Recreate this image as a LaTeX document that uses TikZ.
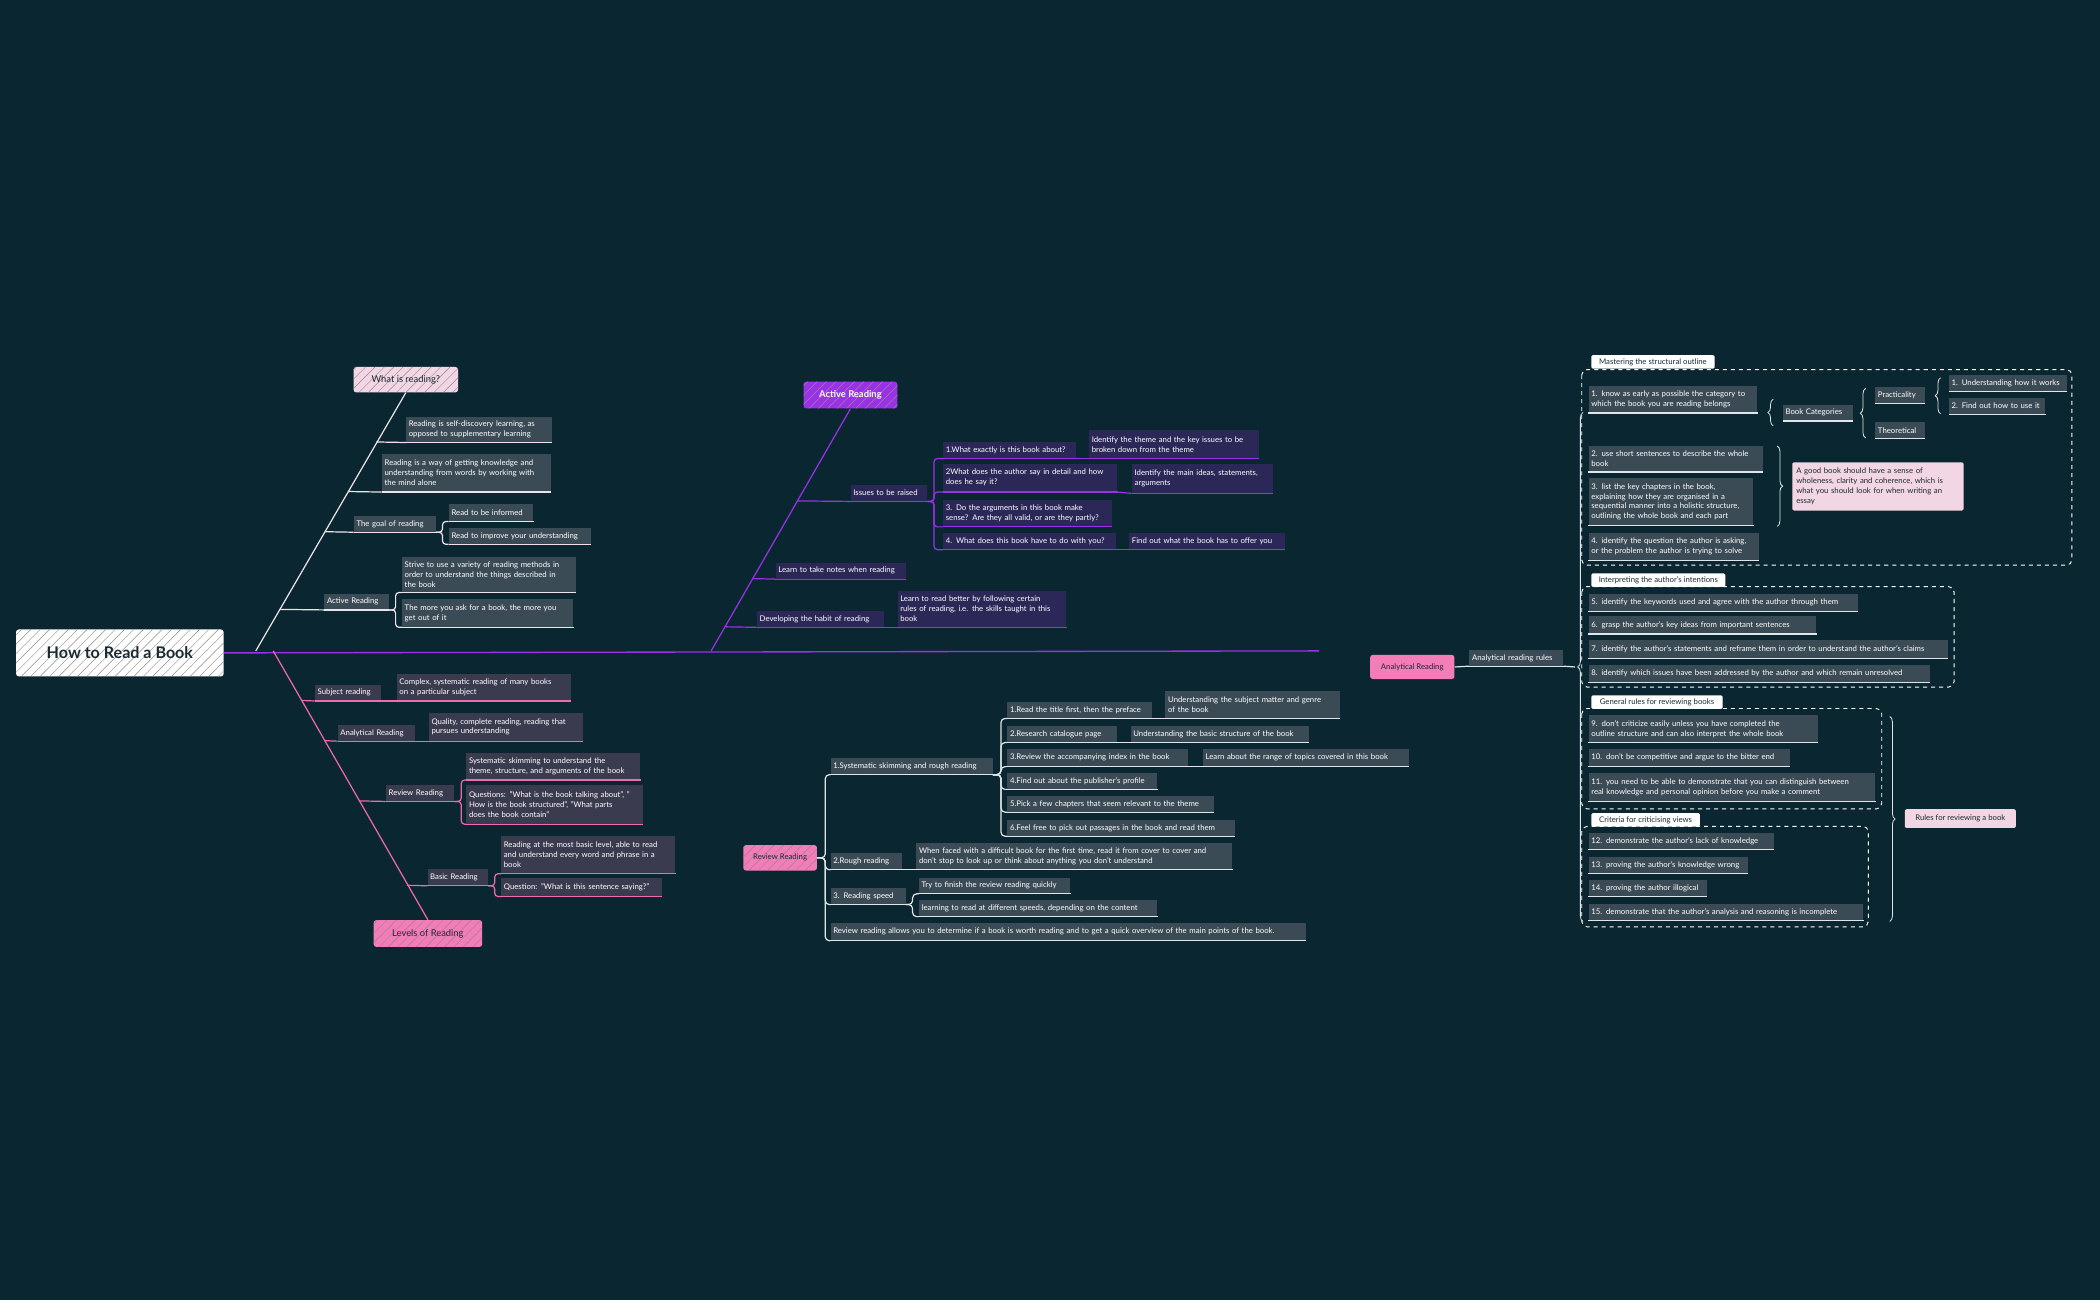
\documentclass[tikz,border=0pt]{standalone}
\usepackage{fontspec}
\setmainfont{Lato}
\usetikzlibrary{decorations.pathreplacing}
\definecolor{bg}{HTML}{0A2731}
\definecolor{slate}{HTML}{3B4B55}
\definecolor{indigo}{HTML}{2B2858}
\definecolor{grape}{HTML}{3B3B50}
\definecolor{wl}{HTML}{EFE3EA}
\definecolor{pl}{HTML}{9B30E8}
\definecolor{kl}{HTML}{EF6AAE}
\definecolor{gl}{HTML}{DFE5E8}
\definecolor{lpink}{HTML}{F3D6E4}
\definecolor{hpink}{HTML}{F47CB8}
\definecolor{dtext}{HTML}{1A2A33}
\tikzset{
 sm/.style={font=\fontsize{5.8}{7.4}\selectfont},
 wbox/.style={fill=slate,text=white,sm},
 pbox/.style={fill=indigo,text=white,sm},
 kbox/.style={fill=grape,text=white,sm},
 gbox/.style={fill=slate,text=white,sm},
 lbox/.style={fill=lpink,text=dtext,sm,rounded corners=1.5pt},
 tab/.style={fill=white,text=dtext,sm,rounded corners=1pt},
 hatch/.style={path picture={\foreach \i in {0,7,...,210}{\draw[black!45,line width=0.35pt]([xshift=\i pt-45pt]path picture bounding box.south west) -- ++(45pt,45pt);}}},
 conn/.style={line width=0.9pt},
 dbox/.style={draw=white,dashed,line width=0.7pt,rounded corners=4pt},
 brc/.style={decorate,decoration={brace,amplitude=4pt},gl,line width=0.6pt}
}
\newcommand\bx[8]{%
 \pgfmathsetmacro\bw{#6-#4}\pgfmathsetmacro\bh{#7-#5}\pgfmathsetmacro\tw{#6-#4-4}%
 \node[#1,minimum width=\bw pt,minimum height=\bh pt,text width=\tw pt,align=left,inner xsep=2pt,inner ysep=0pt,anchor=north west] (#3) at (#4,#5) {#8};
 \draw[#2,conn] (#3.south west) -- (#3.south east);}
\begin{document}
\begin{tikzpicture}[x=1pt,y=-1pt]
\fill[bg] (0,0) rectangle (1568,971);
\useasboundingbox (0,0) rectangle (1568,971);
% root
\node[fill=white,rounded corners=2pt,hatch,minimum width=155pt,minimum height=35pt,text=dtext,font=\fontsize{12}{14}\selectfont\bfseries] (root) at (89.5,487.5) {How to Read a Book};
\coordinate (mainend) at (985,486);
\draw[pl,line width=1pt] (root.east) -- (mainend);
% ---------- white branch
\node[fill=lpink,hatch,rounded corners=2pt,text=dtext,font=\fontsize{7}{8}\selectfont,minimum width=78pt,minimum height=19pt] (whatis) at (303,283.5) {What is reading?};
\coordinate (wroot) at (191,486);
\draw[wl,conn] (wroot) -- (whatis.south);
\bx{wbox}{wl}{w1}{303}{311}{412}{330}{Reading is self-discovery learning, as\\opposed to supplementary learning}
\bx{wbox}{wl}{w2}{285}{339}{411}{367}{Reading is a way of getting knowledge and\\understanding from words by working with\\the mind alone}
\bx{wbox}{wl}{goal}{264}{385}{325}{397}{The goal of reading}
\bx{wbox}{wl}{g1}{335}{376}{398}{389}{Read to be informed}
\bx{wbox}{wl}{g2}{335}{394}{441}{406}{Read to improve your understanding}
\bx{wbox}{wl}{war}{242}{443}{290}{455}{Active Reading}
\bx{wbox}{wl}{a1}{300}{416}{430}{442}{Strive to use a variety of reading methods in\\order to understand the things described in\\the book}
\bx{wbox}{wl}{a2}{300}{447}{428}{468}{The more you ask for a book, the more you\\get out of it}
\coordinate (wc1) at (281,330);\coordinate (wc2) at (260,367);\coordinate (wc3) at (243,397);\coordinate (wc4) at (209,455);
\draw[wl,conn] (wc1) -- (w1.south west);
\draw[wl,conn] (wc2) -- (w2.south west);
\draw[wl,conn] (wc3) -- (goal.south west);
\draw[wl,conn] (wc4) -- (war.south west);
\draw[wl,conn,rounded corners=2.5pt] (goal.south east) -- ++(5,0) |- (g1.south west);
\draw[wl,conn,rounded corners=2.5pt] (goal.south east) -- ++(5,0) |- (g2.south west);
\draw[wl,conn,rounded corners=2.5pt] (war.south east) -- ++(5,0) |- (a1.south west);
\draw[wl,conn,rounded corners=2.5pt] (war.south east) -- ++(5,0) |- (a2.south west);
% ---------- pink branch
\node[fill=hpink,hatch,rounded corners=2pt,text=dtext,font=\fontsize{7}{8}\selectfont,minimum width=81pt,minimum height=20pt] (levels) at (319.5,697) {Levels of Reading};
\coordinate (kroot) at (204,486);
\draw[kl,conn] (kroot) -- (levels.north);
\bx{kbox}{kl}{sj}{235}{511}{284}{523}{Subject reading}
\bx{kbox}{kl}{sj1}{296}{503}{426}{523}{Complex, systematic reading of many books\\on a particular subject}
\bx{kbox}{kl}{an}{252}{541}{310}{553}{Analytical Reading}
\bx{kbox}{kl}{an1}{320}{532}{435}{553}{Quality, complete reading, reading that\\pursues understanding}
\bx{kbox}{kl}{rv}{288}{586}{339}{598}{Review Reading}
\bx{kbox}{kl}{v1}{348}{562}{478}{582}{Systematic skimming to understand the\\theme, structure, and arguments of the book}
\bx{kbox}{kl}{v2}{348}{586}{480}{615}{Questions: "What is the book talking about", "\\How is the book structured", "What parts\\does the book contain"}
\bx{kbox}{kl}{bs}{319}{649}{364}{661}{Basic Reading}
\bx{kbox}{kl}{b1}{374}{624}{504}{652}{Reading at the most basic level, able to read\\and understand every word and phrase in a\\book}
\bx{kbox}{kl}{b2}{374}{655}{494}{669}{Question: "What is this sentence saying?"}
\coordinate (kc1) at (225,523);\coordinate (kc2) at (242,553);\coordinate (kc3) at (268,598);\coordinate (kc4) at (304,661);
\draw[kl,conn] (kc1) -- (sj.south west);
\draw[kl,conn] (kc2) -- (an.south west);
\draw[kl,conn] (kc3) -- (rv.south west);
\draw[kl,conn] (kc4) -- (bs.south west);
\draw[kl,conn] (sj.south east) -- (sj1.south west);
\draw[kl,conn] (an.south east) -- (an1.south west);
\draw[kl,conn,rounded corners=2.5pt] (rv.south east) -- ++(5,0) |- (v1.south west);
\draw[kl,conn,rounded corners=2.5pt] (rv.south east) -- ++(5,0) |- (v2.south west);
\draw[kl,conn,rounded corners=2.5pt] (bs.south east) -- ++(5,0) |- (b1.south west);
\draw[kl,conn,rounded corners=2.5pt] (bs.south east) -- ++(5,0) |- (b2.south west);
% ---------- purple branch
\node[fill=pl,hatch,rounded corners=2pt,text=white,font=\fontsize{7}{8}\selectfont\bfseries,minimum width=70pt,minimum height=20pt] (active) at (635,295) {Active Reading};
\coordinate (proot) at (531,486);
\draw[pl,conn] (proot) -- (active.south);
\bx{pbox}{pl}{iss}{635}{362}{692}{374}{Issues to be raised}
\bx{pbox}{pl}{q1}{704}{330}{803}{342}{1.What exactly is this book about?}
\bx{pbox}{pl}{q1a}{813}{321}{940}{342}{Identify the theme and the key issues to be\\broken down from the theme}
\bx{pbox}{pl}{q2}{704}{346}{834}{367}{2What does the author say in detail and how\\does he say it?}
\bx{pbox}{pl}{q2a}{845}{346}{950}{368}{Identify the main ideas, statements,\\arguments}
\bx{pbox}{pl}{q3}{704}{373}{830}{393}{3. Do the arguments in this book make\\sense? Are they all valid, or are they partly?}
\bx{pbox}{pl}{q4}{704}{398}{833}{410}{4. What does this book have to do with you?}
\bx{pbox}{pl}{q4a}{843}{398}{959}{410}{Find out what the book has to offer you}
\bx{pbox}{pl}{nt}{579}{420}{676}{432}{Learn to take notes when reading}
\bx{pbox}{pl}{hb}{565}{456}{660}{468}{Developing the habit of reading}
\bx{pbox}{pl}{hb1}{670}{441}{796}{468}{Learn to read better by following certain\\rules of reading, i.e. the skills taught in this\\book}
\coordinate (pc1) at (595,374);\coordinate (pc2) at (562,432);\coordinate (pc3) at (541,468);
\draw[pl,conn] (pc1) -- (iss.south west);
\draw[pl,conn] (pc2) -- (nt.south west);
\draw[pl,conn] (pc3) -- (hb.south west);
\draw[pl,conn] (hb.south east) -- (hb1.south west);
\foreach \q in {q1,q2,q3,q4}{\draw[pl,conn,rounded corners=2.5pt] (iss.south east) -- ++(5,0) |- (\q.south west);}
\draw[pl,conn] (q1.south east) -- (q1a.south west);
\draw[pl,conn] (q2.south east) -- (q2a.south west);
\draw[pl,conn] (q4.south east) -- (q4a.south west);
% ---------- review reading (center)
\node[fill=hpink,hatch,rounded corners=2pt,text=dtext,sm,minimum width=55pt,minimum height=19pt] (rr) at (582.5,640.5) {Review Reading};
\bx{gbox}{gl}{s1}{620}{566}{741}{578}{1.Systematic skimming and rough reading}
\bx{gbox}{gl}{r1}{752}{524}{860}{536}{1.Read the title first, then the preface}
\bx{gbox}{gl}{r1a}{870}{516}{1000}{536}{Understanding the subject matter and genre\\of the book}
\bx{gbox}{gl}{r2}{752}{542}{834}{554}{2.Research catalogue page}
\bx{gbox}{gl}{r2a}{844}{542}{977}{554}{Understanding the basic structure of the book}
\bx{gbox}{gl}{r3}{752}{559}{887}{572}{3.Review the accompanying index in the book}
\bx{gbox}{gl}{r3a}{898}{559}{1052}{572}{Learn about the range of topics covered in this book}
\bx{gbox}{gl}{r4}{752}{577}{864}{589}{4.Find out about the publisher's profile}
\bx{gbox}{gl}{r5}{752}{594}{906}{606}{5.Pick a few chapters that seem relevant to the theme}
\bx{gbox}{gl}{r6}{752}{612}{922}{624}{6.Feel free to pick out passages in the book and read them}
\bx{gbox}{gl}{s2}{620}{637}{673}{649}{2.Rough reading}
\bx{gbox}{gl}{s2a}{684}{629}{920}{649}{When faced with a difficult book for the first time, read it from cover to cover and\\don't stop to look up or think about anything you don't understand}
\bx{gbox}{gl}{s3}{620}{663}{676}{675}{3. Reading speed}
\bx{gbox}{gl}{t1}{686}{655}{799}{667}{Try to finish the review reading quickly}
\bx{gbox}{gl}{t2}{686}{672}{864}{684}{learning to read at different speeds, depending on the content}
\bx{gbox}{gl}{s4}{620}{689}{975}{702}{Review reading allows you to determine if a book is worth reading and to get a quick overview of the main points of the book.}
\foreach \s in {s1,s2,s3,s4}{\draw[gl,conn,rounded corners=3pt] (rr.east) -- ++(6,0) |- (\s.south west);}
\foreach \r in {r1,r2,r3,r4,r5,r6}{\draw[gl,conn,rounded corners=3pt] (s1.south east) -- ++(6,0) |- (\r.south west);}
\foreach \t in {t1,t2}{\draw[gl,conn,rounded corners=3pt] (s3.south east) -- ++(5,0) |- (\t.south west);}
\draw[gl,conn] (r1.south east) -- (r1a.south west);
\draw[gl,conn] (r2.south east) -- (r2a.south west);
\draw[gl,conn] (r3.south east) -- (r3a.south west);
\draw[gl,conn] (s2.south east) -- (s2a.south west);
% ---------- analytical reading (right)
\node[fill=hpink,rounded corners=2pt,text=dtext,sm,minimum width=63pt,minimum height=18pt] (ana) at (1054.5,498) {Analytical Reading};
\bx{gbox}{gl}{rules}{1097}{485}{1167}{497}{Analytical reading rules}
\draw[gl,conn] (ana.east) -- (rules.south west);
\coordinate (bigtip) at (1176,498);
\draw[gl,conn] (rules.south east) -- (bigtip);
\draw[brc] (1182,688) -- (1182,308);
% group 1
\draw[dbox] (1181,276) rectangle (1547,422);
\node[tab,anchor=north west,minimum width=92pt,minimum height=10pt,inner sep=1pt] (tab1) at (1188,265) {Mastering the structural outline};
\bx{gbox}{gl}{m1}{1186}{288}{1312}{308}{1. know as early as possible the category to\\which the book you are reading belongs}
\draw[brc] (1324,318) -- (1324,298);
\bx{gbox}{gl}{cat}{1331}{302}{1383}{314}{Book Categories}
\draw[brc] (1393,327) -- (1393,290);
\bx{gbox}{gl}{prac}{1400}{289}{1437}{301}{Practicality}
\bx{gbox}{gl}{theo}{1400}{315}{1437}{327}{Theoretical}
\draw[brc] (1449,309) -- (1449,282);
\bx{gbox}{gl}{u1}{1455}{280}{1543}{292}{1. Understanding how it works}
\bx{gbox}{gl}{u2}{1455}{297}{1527}{309}{2. Find out how to use it}
\bx{gbox}{gl}{m2}{1186}{333}{1316}{352}{2. use short sentences to describe the whole\\book}
\bx{gbox}{gl}{m3}{1186}{357}{1309}{392}{3. list the key chapters in the book,\\explaining how they are organised in a\\sequential manner into a holistic structure,\\outlining the whole book and each part}
\bx{gbox}{gl}{m4}{1186}{398}{1313}{418}{4. identify the question the author is asking,\\or the problem the author is trying to solve}
\draw[brc] (1327,333) -- (1327,393);
\node[lbox,anchor=north west,minimum width=128pt,minimum height=36pt,text width=122pt,align=left,inner xsep=3pt] (good) at (1338,345) {A good book should have a sense of\\wholeness, clarity and coherence, which is\\what you should look for when writing an\\essay};
% group 2
\draw[dbox] (1181,438) rectangle (1459,513);
\node[tab,anchor=north west,minimum width=100pt,minimum height=10pt,inner sep=1pt] (tab2) at (1188,428) {Interpreting the author's intentions};
\bx{gbox}{gl}{i5}{1186}{443}{1387}{456}{5. identify the keywords used and agree with the author through them}
\bx{gbox}{gl}{i6}{1186}{460}{1356}{473}{6. grasp the author's key ideas from important sentences}
\bx{gbox}{gl}{i7}{1186}{478}{1454}{491}{7. identify the author's statements and reframe them in order to understand the author's claims}
\bx{gbox}{gl}{i8}{1186}{496}{1441}{509}{8. identify which issues have been addressed by the author and which remain unresolved}
% group 3
\draw[dbox] (1181,529) rectangle (1405,604);
\node[tab,anchor=north west,minimum width=98pt,minimum height=10pt,inner sep=1pt] (tab3) at (1188,519) {General rules for reviewing books};
\bx{gbox}{gl}{g9}{1186}{534}{1357}{554}{9. don't criticize easily unless you have completed the\\outline structure and can also interpret the whole book}
\bx{gbox}{gl}{g10}{1186}{559}{1336}{572}{10. don't be competitive and argue to the bitter end}
\bx{gbox}{gl}{g11}{1186}{577}{1400}{598}{11. you need to be able to demonstrate that you can distinguish between\\real knowledge and personal opinion before you make a comment}
% group 4
\draw[dbox] (1181,617) rectangle (1395,692);
\node[tab,anchor=north west,minimum width=81pt,minimum height=10pt,inner sep=1pt] (tab4) at (1188,607) {Criteria for criticising views};
\bx{gbox}{gl}{c12}{1186}{622}{1324}{634}{12. demonstrate the author's lack of knowledge}
\bx{gbox}{gl}{c13}{1186}{640}{1305}{652}{13. proving the author's knowledge wrong}
\bx{gbox}{gl}{c14}{1186}{657}{1274}{669}{14. proving the author illogical}
\bx{gbox}{gl}{c15}{1186}{675}{1391}{687}{15. demonstrate that the author's analysis and reasoning is incomplete}
\draw[brc] (1411,535) -- (1411,688);
\node[lbox,anchor=north west,minimum width=83pt,minimum height=14pt,inner xsep=3pt] (rules2) at (1422,604) {Rules for reviewing a book};
\end{tikzpicture}
\end{document}
